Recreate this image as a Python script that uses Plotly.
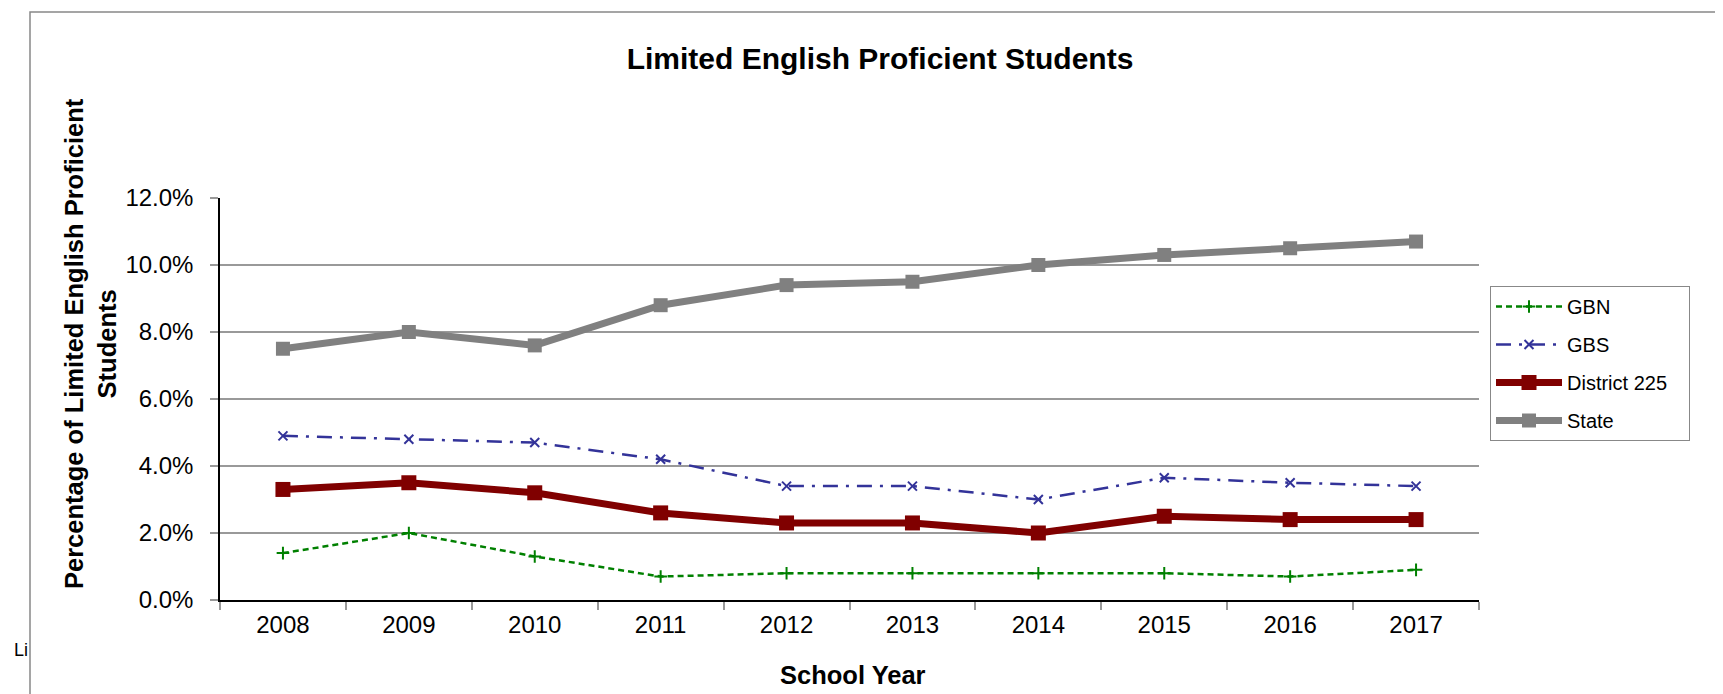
import plotly.graph_objects as go

# data (fractions, shown as %)
years = ["2008", "2009", "2010", "2011", "2012", "2013", "2014", "2015", "2016", "2017"]
gbn = [0.014, 0.020, 0.013, 0.007, 0.008, 0.008, 0.008, 0.008, 0.007, 0.009]
gbs = [0.049, 0.048, 0.047, 0.042, 0.034, 0.034, 0.030, 0.0365, 0.035, 0.034]
district = [0.033, 0.035, 0.032, 0.026, 0.023, 0.023, 0.020, 0.025, 0.024, 0.024]
state = [0.075, 0.080, 0.076, 0.088, 0.094, 0.095, 0.100, 0.103, 0.105, 0.107]

FONT = "Liberation Sans, Arial, sans-serif"

# plot area in pixels
W, H = 1723, 694
L, R, T, B = 212, 1471, 190, 592


def px_x(p):
    return (p - L) / (R - L)


def px_y(p):
    return (B - p) / (B - T)


fig = go.Figure()

fig.add_trace(go.Scatter(
    x=years, y=gbn, name="GBN", mode="lines+markers", legendgroup="a",
    line=dict(color="#008000", width=2.5, dash="6px,4px"),
    marker=dict(symbol="cross-thin", size=9, line=dict(color="#008000", width=2))))
fig.add_trace(go.Scatter(
    x=years, y=gbs, name="GBS", mode="lines+markers", legendgroup="b",
    line=dict(color="#333399", width=2.5, dash="15px,8px,3px,8px"),
    marker=dict(symbol="x-thin", size=9, line=dict(color="#333399", width=2))))
fig.add_trace(go.Scatter(
    x=years, y=district, name="District 225&nbsp;&nbsp;&nbsp;", mode="lines+markers", legendgroup="c",
    line=dict(color="#800000", width=7),
    marker=dict(symbol="square", size=15, color="#800000")))
fig.add_trace(go.Scatter(
    x=years, y=state, name="State", mode="lines+markers", legendgroup="d",
    line=dict(color="#808080", width=7),
    marker=dict(symbol="square", size=14, color="#808080")))

fig.update_layout(
    width=W, height=H,
    margin=dict(l=L, r=W - R, t=T, b=H - B),
    paper_bgcolor="white", plot_bgcolor="white",
    font=dict(family=FONT, color="black"),
    title=dict(text="<b>Limited English Proficient Students</b>",
               x=px_x(872), xanchor="center", xref="paper",
               y=1 - 50 / H, yanchor="middle", yref="container",
               font=dict(size=30, family=FONT, color="black")),
    xaxis=dict(type="category", range=[-0.5, 9.5], tickson="boundaries",
               ticks="outside", ticklen=8, tickwidth=2, tickcolor="#999999",
               showline=True, linecolor="black", linewidth=1.5,
               showgrid=False, zeroline=False,
               tickfont=dict(size=24, family=FONT, color="black"),
               ticklabelstandoff=2),
    yaxis=dict(range=[0, 0.12], dtick=0.02, tickformat=".1%",
               ticks="outside", ticklen=8, tickwidth=2, tickcolor="#999999",
               showline=True, linecolor="black", linewidth=1.5,
               showgrid=True, gridcolor="#999999", gridwidth=2, zeroline=False,
               tickfont=dict(size=24, family=FONT, color="black"),
               ticklabelstandoff=12),
    legend=dict(x=px_x(1482), y=px_y(278), xanchor="left", yanchor="top",
                traceorder="grouped", tracegroupgap=9,
                bordercolor="#888888", borderwidth=1, bgcolor="white",
                font=dict(size=20, family=FONT, color="black"),
                itemwidth=66),
    showlegend=True,
)

# chart frame (left and top edges visible)
fig.add_shape(type="rect", xref="paper", yref="paper",
              x0=px_x(22), x1=px_x(W + 10), y0=px_y(H + 10), y1=px_y(4),
              line=dict(color="#888888", width=1.5), layer="below")

# axis titles
fig.add_annotation(text="<b>Percentage of Limited English Proficient<br>Students</b>",
                   xref="paper", yref="paper", x=px_x(82), y=px_y(336),
                   xanchor="center", yanchor="middle", textangle=-90,
                   showarrow=False, font=dict(size=25.5, family=FONT, color="black"))
fig.add_annotation(text="<b>School Year</b>",
                   xref="paper", yref="paper", x=px_x(845), y=px_y(667),
                   xanchor="center", yanchor="middle",
                   showarrow=False, font=dict(size=25.5, family=FONT, color="black"))

# stray clipped text at lower left
fig.add_annotation(text="Li", xref="paper", yref="paper", x=px_x(4), y=px_y(642),
                   xanchor="left", yanchor="middle", showarrow=False,
                   font=dict(size=18, family=FONT, color="black"))

fig.write_html("out.html")
